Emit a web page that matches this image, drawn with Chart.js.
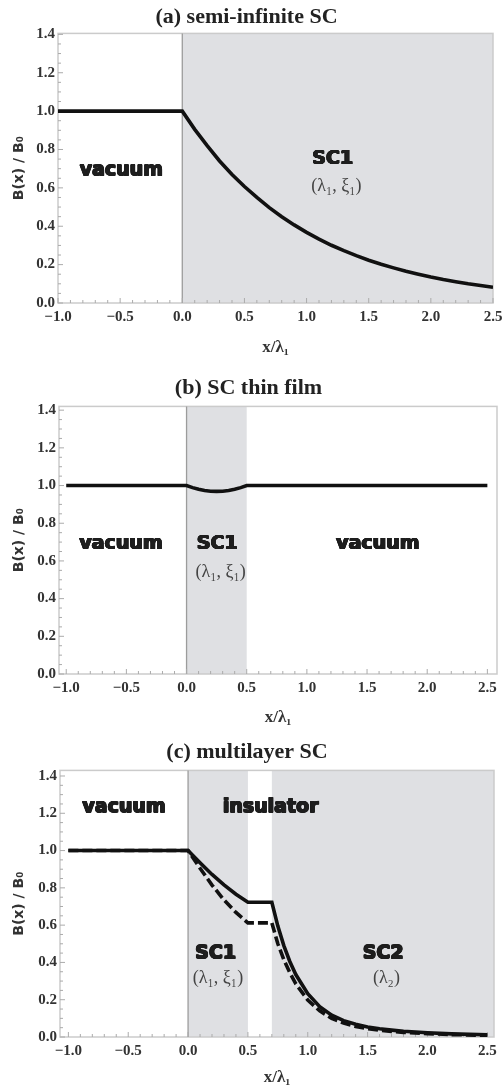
<!DOCTYPE html>
<html><head><meta charset="utf-8">
<script src="https://cdn.jsdelivr.net/npm/chart.js@4.4.1/dist/chart.umd.min.js"></script>
<style>
html,body{margin:0;padding:0;background:#fff;}
.panel{position:relative;width:502px;}
</style></head><body>
<div class="panel" style="height:362px"><canvas id="ca"></canvas></div>
<div class="panel" style="height:368px"><canvas id="cb"></canvas></div>
<div class="panel" style="height:361px"><canvas id="cc"></canvas></div>
<script>
// ---- tick labels ----
const xTickValues = [-1.0, -0.5, 0.0, 0.5, 1.0, 1.5, 2.0, 2.5];
const xTickLabels = ['\u22121.0', '\u22120.5', '0.0', '0.5', '1.0', '1.5', '2.0', '2.5'];
const yTickValues = [0.0, 0.2, 0.4, 0.6, 0.8, 1.0, 1.2, 1.4];
const yTickLabels = ['0.0', '0.2', '0.4', '0.6', '0.8', '1.0', '1.2', '1.4'];

// ---- panel (a) semi-infinite SC ----
const xA = [-1.0, 0.0, 0.1, 0.2, 0.3, 0.4, 0.5, 0.6, 0.7, 0.8, 0.9, 1.0, 1.1, 1.2, 1.3, 1.4, 1.5, 1.6, 1.7, 1.8, 1.9, 2.0, 2.1, 2.2, 2.3, 2.4, 2.5];
const bA = [1.0, 1.0, 0.905, 0.82, 0.74, 0.67, 0.607, 0.55, 0.497, 0.45, 0.407, 0.368, 0.333, 0.301, 0.273, 0.247, 0.223, 0.202, 0.183, 0.165, 0.15, 0.135, 0.122, 0.111, 0.1, 0.091, 0.082];

// ---- panel (b) SC thin film ----
const xB = [-1.0, 0.0, 0.05, 0.1, 0.15, 0.2, 0.25, 0.3, 0.35, 0.4, 0.45, 0.5, 2.5];
const bB = [1.0, 1.0, 0.989, 0.98, 0.974, 0.97, 0.969, 0.97, 0.974, 0.98, 0.989, 1.0, 1.0];

// ---- panel (c) multilayer SC ----
const xC = [-1.0, 0.0, 0.1, 0.2, 0.3, 0.4, 0.5, 0.7, 0.75, 0.8, 0.85, 0.9, 1.0, 1.1, 1.2, 1.3, 1.4, 1.5, 1.6, 1.7, 1.8, 2.0, 2.2, 2.5];
const bCsolid  = [1.0, 1.0, 0.935, 0.872, 0.816, 0.766, 0.723, 0.723, 0.595, 0.49, 0.405, 0.335, 0.232, 0.163, 0.117, 0.088, 0.068, 0.054, 0.044, 0.037, 0.031, 0.023, 0.017, 0.012];
const bCdashed = [1.0, 1.0, 0.905, 0.815, 0.735, 0.668, 0.612, 0.612, 0.50, 0.415, 0.345, 0.285, 0.198, 0.14, 0.10, 0.075, 0.057, 0.045, 0.036, 0.030, 0.025, 0.018, 0.013, 0.009];

// ---- regions & annotations ----
const shadeA = [[0.0, 3.0]];
const shadeB = [[0.0, 0.5]];
const shadeC = [[0.0, 0.5], [0.7, 3.0]];
const labelsA = [
  {t: 'vacuum', x: -0.49, y: 0.69, k: 'big'},
  {t: 'SC1', x: 1.21, y: 0.75, k: 'big'},
  {t: '(\u03bb\u2081, \u03be\u2081)', x: 1.24, y: 0.61, k: 'par'}
];
const labelsB = [
  {t: 'vacuum', x: -0.545, y: 0.69, k: 'big'},
  {t: 'SC1', x: 0.255, y: 0.69, k: 'big'},
  {t: '(\u03bb\u2081, \u03be\u2081)', x: 0.284, y: 0.54, k: 'par'},
  {t: 'vacuum', x: 1.59, y: 0.69, k: 'big'}
];
const labelsC = [
  {t: 'vacuum', x: -0.535, y: 1.232, k: 'big'},
  {t: 'insulator', x: 0.69, y: 1.232, k: 'big'},
  {t: 'SC1', x: 0.23, y: 0.447, k: 'big'},
  {t: '(\u03bb\u2081, \u03be\u2081)', x: 0.25, y: 0.313, k: 'par'},
  {t: 'SC2', x: 1.63, y: 0.447, k: 'big'},
  {t: '(\u03bb\u2082)', x: 1.657, y: 0.313, k: 'par'}
];

const decor = {
  id: 'decor',
  beforeDatasetsDraw(chart, args, opts) {
    const {ctx, chartArea: a} = chart;
    const sx = chart.scales.x, sy = chart.scales.y;
    ctx.save();
    ctx.beginPath(); ctx.rect(a.left, a.top, a.right - a.left, a.bottom - a.top); ctx.clip();
    ctx.fillStyle = '#dfe0e3';
    (opts.shade || []).forEach(([x0, x1]) => {
      const p0 = sx.getPixelForValue(x0), p1 = sx.getPixelForValue(x1);
      ctx.fillRect(p0, a.top, p1 - p0, a.bottom - a.top);
    });
    ctx.restore();
    ctx.save();
    // frame
    ctx.strokeStyle = '#cbcbcb'; ctx.lineWidth = 1.5;
    ctx.strokeRect(a.left, a.top, a.right - a.left, a.bottom - a.top);
    // interface line at x = 0
    ctx.strokeStyle = '#9c9c9c'; ctx.lineWidth = 1.3;
    const zx = sx.getPixelForValue(0);
    ctx.beginPath(); ctx.moveTo(zx, a.top); ctx.lineTo(zx, a.bottom); ctx.stroke();
    // inner ticks
    ctx.strokeStyle = '#ababab'; ctx.lineWidth = 1;
    ctx.beginPath();
    for (let i = -10; i <= 25; i++) {
      const px = sx.getPixelForValue(i / 10);
      const len = (i % 5 === 0) ? 5 : 3;
      ctx.moveTo(px, a.bottom); ctx.lineTo(px, a.bottom - len);
    }
    for (let j = 0; j <= 28; j++) {
      const py = sy.getPixelForValue(j * 0.05);
      if (py < a.top) continue;
      const len = (j % 4 === 0) ? 5 : 3;
      ctx.moveTo(a.left, py); ctx.lineTo(a.left + len, py);
    }
    ctx.stroke();
    // region labels
    ctx.textAlign = 'center'; ctx.textBaseline = 'middle';
    (opts.labels || []).forEach(l => {
      const px = sx.getPixelForValue(l.x), py = sy.getPixelForValue(l.y);
      if (l.k === 'big') {
        ctx.font = 'bold 19px "DejaVu Sans"';
        ctx.fillStyle = '#1e1e1e';
        for (const dx of [-0.6, 0, 0.6]) for (const dy of [-0.4, 0, 0.4]) ctx.fillText(l.t, px + dx, py + dy);
      } else {
        ctx.font = '18px "Liberation Serif"';
        ctx.fillStyle = '#444';
        ctx.fillText(l.t, px, py);
      }
    });
    ctx.restore();
  }
};

function makeChart(id, title, tPad, datasets, xr, yr, yW, rightPad, xH, xTitlePad, shade, labels) {
  return new Chart(document.getElementById(id), {
    type: 'line',
    data: { datasets },
    plugins: [decor],
    options: {
      responsive: true, maintainAspectRatio: false, animation: false,
      layout: { padding: { left: 0, right: rightPad, top: 0, bottom: 0 } },
      elements: { point: { radius: 0 }, line: { tension: 0, borderJoinStyle: 'miter' } },
      plugins: {
        legend: { display: false }, tooltip: { enabled: false },
        title: { display: true, text: title, color: '#222',
          font: { family: '"Liberation Serif"', size: 22, weight: 'bold' },
          padding: tPad },
        decor: { shade, labels }
      },
      scales: {
        x: {
          type: 'linear', min: xr[0], max: xr[1],
          grid: { display: false, drawTicks: false }, border: { display: false },
          afterBuildTicks: s => { s.ticks = xTickValues.map(v => ({ value: v })); },
          afterFit: s => { s.height = xH; s.paddingLeft = 0; s.paddingRight = 0; },
          ticks: { padding: 5, color: '#333', maxRotation: 0, autoSkip: false,
            font: { family: '"Liberation Serif"', size: 15, weight: 'bold' },
            callback: v => xTickLabels[xTickValues.indexOf(v)] },
          title: { display: true, text: 'x/\u03bb\u2081', color: '#333',
            font: { family: '"Liberation Serif"', size: 17, weight: 'bold' },
            padding: { top: 0, bottom: xTitlePad } }
        },
        y: {
          type: 'linear', min: yr[0], max: yr[1],
          grid: { display: false, drawTicks: false }, border: { display: false },
          afterBuildTicks: s => { s.ticks = yTickValues.map(v => ({ value: v })); },
          afterFit: s => { s.width = yW; s.paddingTop = 0; s.paddingBottom = 0; },
          ticks: { padding: 3, color: '#333', autoSkip: false,
            font: { family: '"Liberation Serif"', size: 15, weight: 'bold' },
            callback: v => yTickLabels[yTickValues.indexOf(v)] },
          title: { display: true, text: 'B(x) / B\u2080', color: '#333',
            font: { family: '"DejaVu Sans"', size: 14, weight: 'bold' },
            padding: { top: 11, bottom: 0 } }
        }
      }
    }
  });
}

const pts = (xs, ys) => xs.map((x, i) => ({ x, y: ys[i] }));
const solid = (xs, ys) => ({ data: pts(xs, ys), borderColor: '#111', borderWidth: 3.6, fill: false, order: 0 });

makeChart('ca', '(a) semi-infinite SC', { top: 4, bottom: 3 },
  [solid(xA, bA)], [-1.0, 2.5], [0, 1.405], 58, 9, 59, 3.8, shadeA, labelsA);
makeChart('cb', '(b) SC thin film', { top: 13, bottom: 5 },
  [solid(xB, bB)], [-1.06, 2.58], [0, 1.42], 59, 5, 56, 1.8, shadeB, labelsB);
makeChart('cc', '(c) multilayer SC', { top: 9, bottom: 5 },
  [solid(xC, bCsolid),
   { data: pts(xC, bCdashed), borderColor: '#111', borderWidth: 3.6, borderDash: [10, 4], fill: false, order: 1 }],
  [-1.07, 2.556], [0, 1.43], 60, 8, 54, 2.8, shadeC, labelsC);
</script>
</body></html>
